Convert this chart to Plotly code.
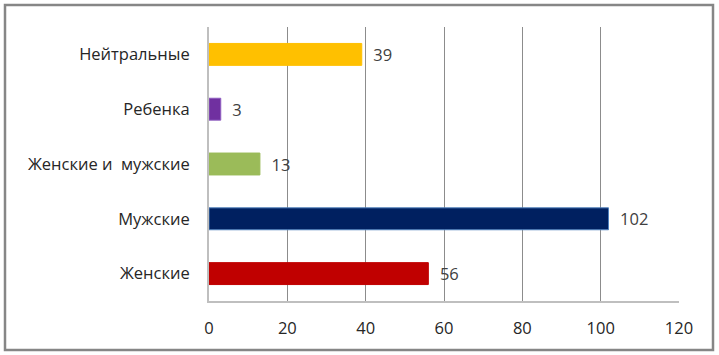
import plotly.graph_objects as go

categories = ["Женские", "Мужские", "Женские и  мужские", "Ребенка", "Нейтральные"]
values = [56, 102, 13, 3, 39]
colors = ["#C00000", "#002060", "#9BBB59", "#7030A0", "#FFC000"]
outlines = ["#C00000", "#4F81BD", "#9BBB59", "#8E5CC0", "#FFC000"]
x_ticks = [0, 20, 40, 60, 80, 100, 120]

W, H = 719, 355
L, R, T, B = 209, 40, 27, 54
pw, ph = W - L - R, H - T - B

fig = go.Figure(go.Bar(
    y=categories, x=values, orientation="h",
    marker=dict(color=colors, line=dict(color=outlines, width=1)),
    width=0.4,
    text=values, texttemplate="  %{x}", textposition="outside",
    constraintext="none",
    textfont=dict(family="Open Sans", size=16.5, color="#404040"),
    cliponaxis=False,
))

def px(x):
    return (x - L) / pw

def py(y):
    return (H - B - y) / ph

fig.update_layout(
    width=W, height=H,
    margin=dict(l=L, r=R, t=T, b=B),
    paper_bgcolor="white", plot_bgcolor="white",
    showlegend=False,
    font=dict(family="Open Sans", size=16.5, color="#262626"),
    xaxis=dict(range=[0, 120], tickvals=x_ticks, showgrid=True,
               gridcolor="#8C8C8C", gridwidth=1, zeroline=False,
               showline=True, linecolor="#BFBFBF", linewidth=2,
               ticks="", ticklabelstandoff=11, fixedrange=True),
    yaxis=dict(showgrid=False, zeroline=False, showline=True,
               linecolor="#BFBFBF", linewidth=2, ticks="",
               ticklabelstandoff=14, fixedrange=True),
    shapes=[dict(type="rect", xref="paper", yref="paper",
                 x0=px(5), x1=px(713), y0=py(350), y1=py(5),
                 line=dict(color="#868686", width=2.5), layer="below")],
)

fig.write_html("out.html")
